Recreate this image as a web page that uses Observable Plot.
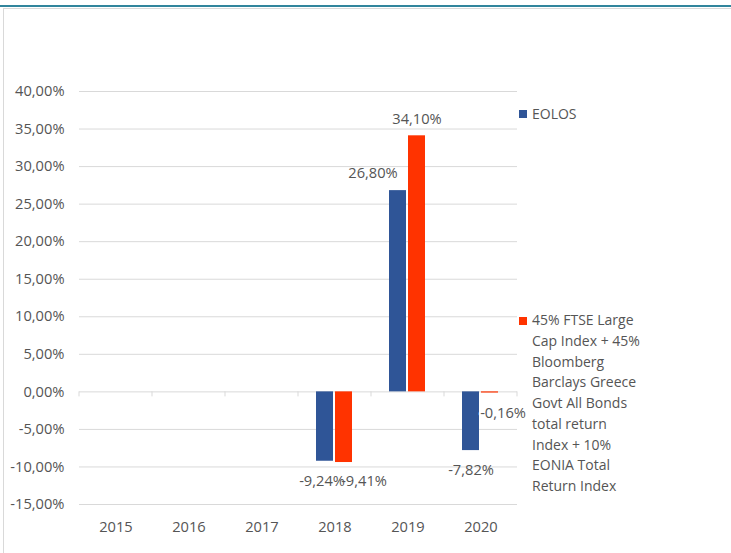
<!DOCTYPE html>
<html><head><meta charset="utf-8">
<script src="https://cdn.jsdelivr.net/npm/d3@7"></script>
<script src="https://cdn.jsdelivr.net/npm/@observablehq/plot@0.6"></script>
<style>
html,body{margin:0;padding:0;background:#fff;}
#wrap{position:relative;width:731px;height:553px;overflow:hidden;font-family:"Open Sans",sans-serif;color:#555;}
#topbar{position:absolute;left:0;top:5px;width:731px;height:2px;background:#31859c;}
#box{position:absolute;left:3px;top:8px;width:760px;height:600px;border-top:1px solid #d9d9d9;border-left:1px solid #d9d9d9;}
#chart{position:absolute;left:0;top:0;}
.leg{position:absolute;font-size:14px;line-height:20.7px;white-space:nowrap;}
.sw{position:absolute;width:8px;height:8px;}
</style></head><body>
<div id="wrap"><div id="topbar"></div><div id="box"></div><div id="chart"></div><div id="legend"></div></div>
<script>
const years = ["2015", "2016", "2017", "2018", "2019", "2020"];
const seriesNames = ["EOLOS", "45% FTSE Large Cap Index + 45% Bloomberg Barclays Greece Govt All Bonds total return Index + 10% EONIA Total Return Index"];
const eolosYears = ["2018", "2019", "2020"];
const eolosValues = [-9.24, 26.80, -7.82];
const benchYears = ["2018", "2019", "2020"];
const benchValues = [-9.41, 34.10, -0.16];
const yTicks = [-15, -10, -5, 0, 5, 10, 15, 20, 25, 30, 35, 40];
const legendLines = [
  ["EOLOS"],
  ["45% FTSE Large", "Cap Index + 45%", "Bloomberg", "Barclays Greece", "Govt All Bonds", "total return", "Index + 10%", "EONIA Total", "Return Index"]
];
const colors = ["#2f5597", "#ff3300"];

const rows = [
  ...eolosYears.map((y, i) => ({year: y, series: seriesNames[0], value: eolosValues[i]})),
  ...benchYears.map((y, i) => ({year: y, series: seriesNames[1], value: benchValues[i]}))
];
const gridRows = years.flatMap(y => yTicks.map(t => ({year: y, tick: t})));
const fmt = v => v.toFixed(2).replace(".", ",") + "%";
const is = (yr, s) => d => d.year === yr && d.series === seriesNames[s];
const FS = 14.67;
const TXT = "#555555";
const lbl = (filter, o) => Plot.text(rows, {filter, fx: "year", x: "series", y: "value", text: d => fmt(d.value), fill: TXT, fontSize: FS, ...o});

const plot = Plot.plot({
  width: 731, height: 553,
  marginLeft: 78, marginRight: 213, marginTop: 91, marginBottom: 49,
  style: {fontFamily: "'Open Sans', sans-serif", fontSize: FS + "px", color: TXT, background: "transparent", overflow: "visible"},
  fx: {domain: years, padding: 0, label: null},
  x: {domain: seriesNames, paddingInner: 0.1, paddingOuter: 0.94, axis: null},
  y: {domain: [-15, 40], label: null},
  color: {domain: seriesNames, range: colors},
  marks: [
    Plot.ruleY(gridRows, {fx: "year", y: "tick", stroke: "#d9d9d9", strokeWidth: 1}),
    Plot.axisY(yTicks, {tickSize: 0, tickPadding: 15, tickFormat: fmt, label: null, fontSize: FS, fill: TXT}),
    Plot.axisFx({anchor: "bottom", tickSize: 0, tickPadding: 17, label: null, fontSize: FS, fill: TXT}),
    Plot.barY(rows, {fx: "year", x: "series", y: "value", fill: "series"}),
    lbl(is("2019", 1), {dy: -17}),
    lbl(is("2019", 0), {dy: -17, dx: -25}),
    lbl(is("2018", 0), {dy: 20, dx: -3}),
    lbl(is("2018", 1), {dy: 19, dx: 20}),
    lbl(is("2020", 0), {dy: 20}),
    lbl(is("2020", 1), {dy: 20.5, dx: 13, stroke: "white", strokeWidth: 4, paintOrder: "stroke"})
  ]
});
document.getElementById("chart").appendChild(plot);

// zero-axis category tick marks, placed from the library's own fx/y scales
const fxs = plot.scale("fx"), ys = plot.scale("y");
const bw = fxs.bandwidth;
const edges = years.map(v => fxs.apply(v)).concat([fxs.apply(years[years.length - 1]) + bw]);
const y0 = ys.apply(0);
d3.select(plot).append("g")
  .selectAll("line").data(edges).join("line")
  .attr("x1", d => d).attr("x2", d => d)
  .attr("y1", y0).attr("y2", y0 + 5)
  .attr("stroke", "#d9d9d9");

// legend
const leg = document.getElementById("legend");
const legTops = [114, 320.7];
legendLines.forEach((lines, i) => {
  const sw = document.createElement("div");
  sw.className = "sw";
  sw.style.left = "519px";
  sw.style.top = (legTops[i] - 4) + "px";
  sw.style.background = colors[i];
  leg.appendChild(sw);
  const t = document.createElement("div");
  t.className = "leg";
  t.style.left = "532px";
  t.style.top = (legTops[i] - 10.35) + "px";
  t.innerHTML = lines.join("<br>");
  leg.appendChild(t);
});
</script>
</body></html>
